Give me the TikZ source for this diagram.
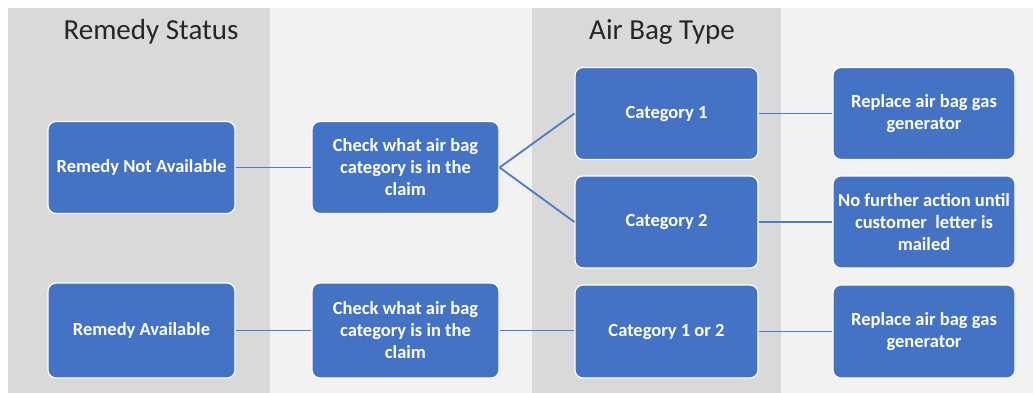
\documentclass[tikz,border=0pt]{standalone}
\usepackage{fontspec}
\setmainfont{Carlito}
\definecolor{boxblue}{HTML}{4472C4}
\definecolor{lineblue}{HTML}{4F7AC7}
\definecolor{darkband}{HTML}{D9D9D9}
\definecolor{lightband}{HTML}{F2F2F2}
\begin{document}
\begin{tikzpicture}[x=1pt,y=-1pt,
  bluebox/.style={draw=white,line width=1.2pt,fill=boxblue,rounded corners=8pt,
    text=white,font=\fontsize{18.5}{22}\selectfont\bfseries,align=center,
    minimum width=187pt,minimum height=92pt,inner sep=1pt},
  conn/.style={draw=lineblue,line width=1.8pt},
  title/.style={font=\fontsize{29}{34}\selectfont,text=black!85}]
\useasboundingbox (0,0) rectangle (1033,392);
\fill[white] (0,0) rectangle (1033,392);
\fill[lightband] (8,8) rectangle (1036,396);
\fill[darkband] (8,8) rectangle (270,396);
\fill[darkband] (532,8) rectangle (781,396);
\node[title] (t1) at (151,32) {Remedy Status};
\node[title] (t2) at (662,32) {Air Bag Type};
\node[bluebox] (rna) at (141.5,167.5) {Remedy Not Available};
\node[bluebox] (chk1) at (405.5,167.5) {Check what air bag\\category is in the\\claim};
\node[bluebox,minimum width=183pt] (cat1) at (666.5,113.5) {Category 1};
\node[bluebox,minimum width=182pt] (rep1) at (924,113.5) {Replace air bag gas\\generator};
\node[bluebox,minimum width=183pt] (cat2) at (666.5,222) {Category 2};
\node[bluebox,minimum width=182pt] (rep2) at (924,222) {No further action until\\customer\ \ letter is\\mailed};
\node[bluebox,minimum height=95pt] (ra) at (141.5,330.5) {Remedy Available};
\node[bluebox,minimum height=95pt] (chk2) at (405.5,330.5) {Check what air bag\\category is in the\\claim};
\node[bluebox,minimum width=183pt,minimum height=93pt] (cat12) at (666.5,331.5) {Category 1 or 2};
\node[bluebox,minimum width=182pt,minimum height=93pt] (rep3) at (924,331.5) {Replace air bag gas\\generator};
\draw[conn] (rna) -- (chk1);
\draw[conn] (chk1.east) -- (cat1.west);
\draw[conn] (chk1.east) -- (cat2.west);
\draw[conn] (cat1) -- (rep1);
\draw[conn] (cat2) -- (rep2);
\draw[conn] (ra) -- (chk2);
\draw[conn] (chk2.east) -- (cat12.west |- chk2.east);
\draw[conn] (cat12) -- (rep3);
\end{tikzpicture}
\end{document}
